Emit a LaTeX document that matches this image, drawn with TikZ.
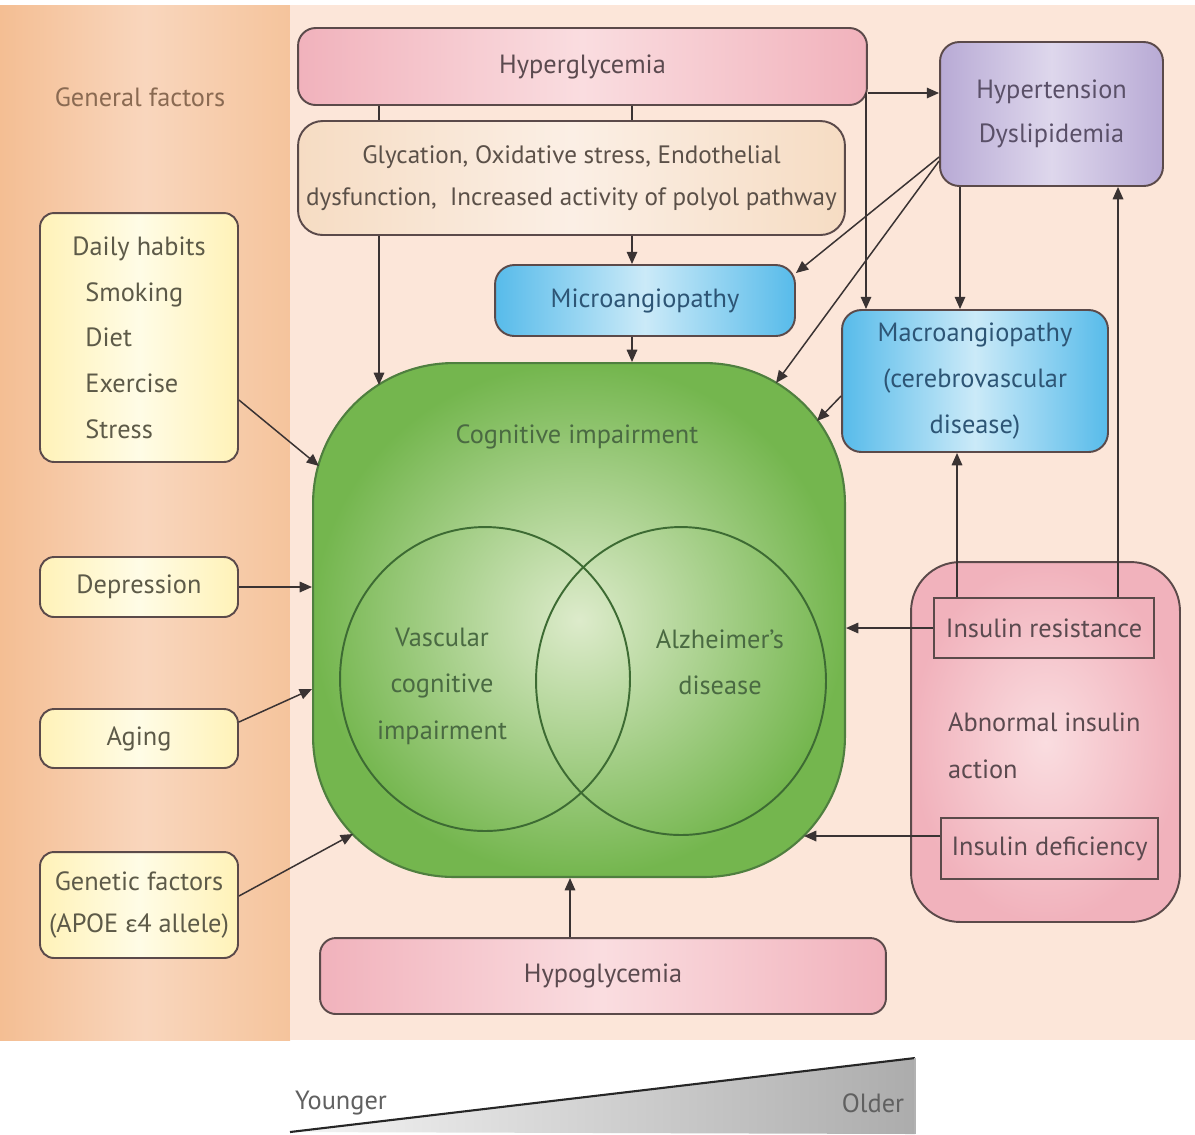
\documentclass[tikz,border=0pt]{standalone}
\usepackage{fontspec}
\setmainfont{PT Sans}
\newfontfamily\grkfont{Carlito}
\usetikzlibrary{arrows.meta,shapes.geometric}
\definecolor{orL}{HTML}{F4BE93}
\definecolor{orM}{HTML}{F9D6BD}
\definecolor{orR}{HTML}{F5C49C}
\definecolor{peach}{HTML}{FCE6D9}
\definecolor{pinkE}{HTML}{F1B2BC}
\definecolor{pinkM}{HTML}{FADDE0}
\definecolor{beigeE}{HTML}{F6DCC3}
\definecolor{beigeM}{HTML}{FBEFE5}
\definecolor{blueE}{HTML}{57BBEA}
\definecolor{blueM}{HTML}{CBEAF8}
\definecolor{purE}{HTML}{B8AAD5}
\definecolor{purM}{HTML}{DED7EC}
\definecolor{greenO}{HTML}{74B64E}
\definecolor{greenI}{HTML}{DDEBCB}
\definecolor{yelE}{HTML}{FFF2B8}
\definecolor{yelM}{HTML}{FFFCE6}
\definecolor{bordc}{HTML}{5B4A4A}
\definecolor{linec}{HTML}{3A3333}
\definecolor{txtpink}{HTML}{5B4A4F}
\definecolor{txtbeige}{HTML}{5B5048}
\definecolor{txtblue}{HTML}{2D5575}
\definecolor{txtpur}{HTML}{5A5068}
\definecolor{txtgreen}{HTML}{4A6A42}
\definecolor{txtyel}{HTML}{5D5A48}
\definecolor{txtgen}{HTML}{8A6A52}
\definecolor{circc}{HTML}{3D6B33}
\definecolor{greenB}{HTML}{4F7F3F}
\begin{document}
\begin{tikzpicture}[x=0.02cm,y=-0.02cm,
  lbl/.style={font=\fontsize{15}{25}\selectfont, align=center, inner sep=1pt},
  box/.style={lbl, draw=bordc, line width=1.1pt},
  pinkbox/.style={box, left color=pinkE, right color=pinkE, middle color=pinkM, text=txtpink, rounded corners=10pt},
  beigebox/.style={box, left color=beigeE, right color=beigeE, middle color=beigeM, text=txtbeige, rounded corners=14pt},
  bluebox/.style={box, left color=blueE, right color=blueE, middle color=blueM, text=txtblue, rounded corners=11pt},
  purbox/.style={box, left color=purE, right color=purE, middle color=purM, text=txtpur, rounded corners=11pt},
  yelbox/.style={box, left color=yelE, right color=yelE, middle color=yelM, text=txtyel, rounded corners=8pt, minimum width=3.96cm},
  insbox/.style={box, draw=bordc, text=txtpink, rounded corners=0pt},
  ln/.style={line width=0.85pt, draw=linec},
  arr/.style={ln, -{Triangle[length=7pt,width=6pt]}},
  vcirc/.style={draw=circc, line width=1.1pt, ellipse, inner sep=0pt}
]
\useasboundingbox (0,0) rectangle (1195,1134);
\fill[white] (0,0) rectangle (1195,1134);
\shade[left color=orL, right color=orR, middle color=orM] (0,5) rectangle (290,1040);
\fill[peach] (290,5) rectangle (1195,1040);

% general label
\node[lbl, text=txtgen] (gen) at (140,97) {General factors};

% top boxes
\node[pinkbox, minimum width=11.38cm, minimum height=1.54cm] (hyper) at (582.5,66.5) {Hyperglycemia};
\node[beigebox, minimum width=10.94cm, minimum height=2.28cm, font=\fontsize{14.3}{24}\selectfont] (glyc) at (571.5,178) {Glycation, Oxidative stress, Endothelial\\dysfunction,~ Increased activity of polyol pathway};
\node[bluebox, minimum width=6.0cm, minimum height=1.42cm] (micro) at (645,300.5) {Microangiopathy};
\node[purbox, minimum width=4.46cm, minimum height=2.88cm] (htn) at (1051.5,114) {Hypertension\\Dyslipidemia};
\node[bluebox, minimum width=5.32cm, minimum height=2.84cm, font=\fontsize{15}{26}\selectfont] (macro) at (975,381) {Macroangiopathy\\(cerebrovascular\\disease)};

% cognitive impairment
\node[draw=greenB, line width=1.2pt, inner color=greenI, outer color=greenO, rounded corners=80pt, minimum width=10.64cm, minimum height=10.28cm] (green) at (579,620) {};
\node[lbl, text=txtgreen] (cogt) at (577,437) {Cognitive impairment};
\node[vcirc, minimum width=5.8cm, minimum height=6.08cm] (vci) at (485,679) {};
\node[vcirc, minimum width=5.8cm, minimum height=6.16cm] (ad) at (681,681) {};
\node[lbl, text=txtgreen, font=\fontsize{15}{26.5}\selectfont] (vcit) at (442,686) {Vascular\\cognitive\\impairment};
\node[lbl, text=txtgreen, font=\fontsize{15}{26}\selectfont] (adt) at (720,662) {Alzheimer's\\disease};

% left factors
\node[yelbox, minimum height=4.98cm, font=\fontsize{15}{26}\selectfont, align=left] (daily) at (139,337.5) {Daily habits\\\hspace*{7.4pt}Smoking\\\hspace*{7.4pt}Diet\\\hspace*{7.4pt}Exercise\\\hspace*{7.4pt}Stress};
\node[yelbox, minimum height=1.2cm] (dep) at (139,587) {Depression};
\node[yelbox, minimum height=1.18cm] (aging) at (139,738.5) {Aging};
\node[yelbox, minimum height=2.12cm, font=\fontsize{15}{24}\selectfont] (genet) at (139,905) {Genetic factors\\(APOE {\grkfont ε}4 allele)};

% insulin
\node[box, inner color=pinkM, outer color=pinkE, rounded corners=28pt, minimum width=5.38cm, minimum height=7.2cm] (abn) at (1045.5,742) {};
\node[lbl, text=txtpink, anchor=west, align=left, font=\fontsize{15}{27}\selectfont] (abnt) at (946,746) {Abnormal insulin\\action};
\node[insbox, minimum width=4.4cm, minimum height=1.2cm] (insres) at (1044,628) {Insulin resistance};
\node[insbox, minimum width=4.34cm, minimum height=1.22cm] (insdef) at (1049.5,848.5) {Insulin deficiency};

% bottom
\node[pinkbox, rounded corners=9pt, minimum width=11.32cm, minimum height=1.52cm] (hypo) at (603,976) {Hypoglycemia};

% age wedge
\shade[left color=gray!8, right color=gray!65] (290,1132) -- (915,1058) -- (915,1134) -- cycle;
\draw[line width=1.2pt, draw=gray!30!black] (290,1132) -- (915,1058);
\draw[line width=0.8pt, draw=gray!60] (915,1058) -- (915,1134);
\node[lbl, text=gray!75!black] (young) at (341,1103) {Younger};
\node[lbl, text=gray!75!black] (older) at (873,1103) {Older};

% coordinates on the green outline
\coordinate (g1) at (379,385);
\coordinate (g2) at (776,383);
\coordinate (g3) at (817,421);
\coordinate (g4) at (319,466);
\coordinate (g6) at (353,834);
\coordinate (g7) at (804,836);
\coordinate (hj) at (866,93);

% connectors
\draw[arr] (hyper.east |- hj) -- (htn.west |- hj);
\draw[arr] (hj) -- (macro.north -| hj);
\draw[ln] (hyper.south -| g1) -- (glyc.north -| g1);
\draw[arr] (glyc.south -| g1) -- (g1);
\draw[ln] (hyper.south -| 632,0) -- (glyc.north -| 632,0);
\draw[arr] (glyc.south -| 632,0) -- (micro.north -| 632,0);
\draw[arr] (micro.south -| 632,0) -- (green.north -| 632,0);
\draw[arr] (htn.south -| 960,0) -- (macro.north -| 960,0);
\draw[arr] (htn.west |- 0,157) -- (micro.east |- 0,273);
\draw[arr] (htn.west |- 0,161) -- (g2);
\draw[arr] (macro.west |- 0,396) -- (g3);
\draw[arr] (insres.north -| 957,0) -- (macro.south -| 957,0);
\draw[arr] (insres.north -| 1118,0) -- (htn.south -| 1118,0);
\draw[arr] (insres.west) -- (green.east |- insres.west);
\draw[arr] (insdef.west |- g7) -- (g7);
\draw[arr] (daily.east |- 0,400) -- (g4);
\draw[arr] (dep.east) -- (green.west |- dep.east);
\draw[arr] (aging.east |- 0,722) -- (green.west |- 0,689);
\draw[arr] (genet.east |- 0,896) -- (g6);
\draw[arr] (hypo.north -| 570,0) -- (green.south -| 570,0);
\end{tikzpicture}
\end{document}
